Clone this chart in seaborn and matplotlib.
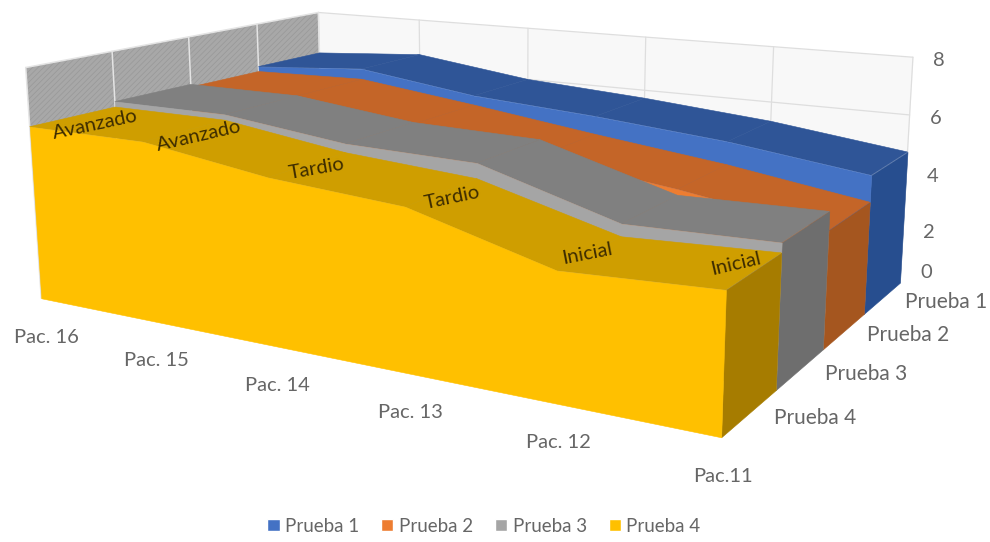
import matplotlib
matplotlib.use('Agg')
import matplotlib.pyplot as plt
from matplotlib.patches import Patch
from mpl_toolkits.mplot3d import proj3d
from mpl_toolkits.mplot3d.art3d import Poly3DCollection
import seaborn as sns

# Resultados por paciente, de Pac. 16 (fondo izquierda) a Pac.11 (frente derecha)
pacientes = ['Pac. 16', 'Pac. 15', 'Pac. 14', 'Pac. 13', 'Pac. 12', 'Pac.11']
prueba_1 = [6.3, 6.6, 6.0, 5.7, 5.3, 4.7]
prueba_2 = [6.1, 6.2, 5.65, 5.05, 4.5, 3.8]
prueba_3 = [6.2, 6.2, 5.7, 5.6, 4.3, 4.4]
prueba_4 = [6.0, 6.0, 5.4, 5.1, 3.9, 4.1]
estadios = ['Avanzado', 'Avanzado', 'Tardio', 'Tardio', 'Inicial', 'Inicial']
nombres = ['Prueba 1', 'Prueba 2', 'Prueba 3', 'Prueba 4']
eje_z = [0, 2, 4, 6, 8]

# Color de cada cara de las series: frontal, superior y lateral
frontal = ['#4472C4', '#ED7D31', '#A5A5A5', '#FFC000']
superior = ['#2F5597', '#C46528', '#808080', '#CF9E00']
lateral = ['#274E8F', '#A5561F', '#6E6E6E', '#A67C00']

W, H = 990, 542
sns.set_theme(style='white')
plt.rcParams['font.family'] = ['Lato', 'DejaVu Sans']
plt.rcParams['hatch.linewidth'] = 0.5
TEXTO = '#666666'

fig = plt.figure(figsize=(W / 100, H / 100), dpi=100)
ax = fig.add_subplot(projection='3d', computed_zorder=False)
n = len(pacientes)
m = len(nombres)
xs = list(range(n))
ax.set_xlim(0, n - 1)
ax.set_ylim(0, m)
ax.set_zlim(0, 8)
ax.set_xticks([])
ax.set_yticks([])
ax.set_zticks([])
ax.set_proj_type('persp', focal_length=1)
ax.view_init(13.083, -59.329, 0.236)
ax.set_box_aspect((1, 0.66, 0.321), zoom=2.928)
ax.set_axis_off()

# Escala y origen en pixeles de la proyeccion, llevados a la caja de los ejes
escala, ox, oy = 1620.9, 475.5, 178.2
(x0, y0), (x1, y1) = ax.transLimits.inverted().transform([(0, 0), (1, 1)])
lado = escala * (x1 - x0)
ax.set_position([(ox + escala * x0) / W, (H - oy + escala * y0) / H, lado / W, lado / H])
matriz = ax.get_proj()


def cara(verts, color, orden, **kw):
    kw.setdefault('edgecolor', color)
    kw.setdefault('linewidths', 0.4)
    ax.add_collection3d(Poly3DCollection(verts, facecolor=color, zorder=orden,
                                         clip_on=False, **kw))


def linea(x, y, z, color, lw):
    ax.plot(x, y, z, color=color, lw=lw, zorder=2, clip_on=False)


def rotulo(x, y, z, texto, color=TEXTO, size=14.5, giro=0):
    # Texto plano anclado a un punto del espacio de los ejes
    px, py, _ = proj3d.proj_transform(x, y, z, matriz)
    ax.text2D(px, py, texto, transform=ax.transData, rotation=giro, rotation_mode='anchor',
              ha='center', va='center', fontsize=size, color=color, zorder=40)


# Paredes y cuadricula
xf, yf = n - 1, m
cara([[(0, yf, 0), (xf, yf, 0), (xf, yf, 8), (0, yf, 8)]], '#F8F8F8', 1, linewidths=0)
cara([[(0, 0, 0), (0, yf, 0), (0, yf, 8), (0, 0, 8)]], '#A8A8A8', 1,
     hatch='//////', edgecolor='#989898', linewidths=0)
for x in xs:
    linea([x, x], [yf, yf], [0, 8], '#DEDEDE', 0.9)
for z in eje_z:
    linea([0, xf], [yf, yf], [z, z], '#DEDEDE', 0.9)
for y in range(m + 1):
    linea([0, 0], [y, y], [0, 8], '#E4E4E4', 1.1)
linea([0, 0], [0, yf], [8, 8], '#E4E4E4', 1.1)

# Series de atras hacia delante
series = [prueba_1, prueba_2, prueba_3, prueba_4]
for k, valores in enumerate(series):
    yb = m - k
    ya = yb - 1
    orden = 10 + 3 * k
    cinta = [[(xs[i], ya, valores[i]), (xs[i + 1], ya, valores[i + 1]),
              (xs[i + 1], yb, valores[i + 1]), (xs[i], yb, valores[i])]
             for i in range(n - 1)]
    cara(cinta, superior[k], orden)
    cara([[(xf, ya, 0), (xf, yb, 0), (xf, yb, valores[-1]), (xf, ya, valores[-1])]],
         lateral[k], orden + 1)
    perfil = [(x, ya, v) for x, v in zip(xs, valores)]
    cara([[(0, ya, 0)] + perfil + [(xf, ya, 0)]], frontal[k], orden + 2)

# Etiquetas de estadio sobre la cara superior de la Prueba 4
ajuste_x = [0.2, 0.12, 0.07, 0.07, -0.02, -0.11]
ajuste_z = [-0.2, -0.12, -0.08, -0.12, -0.03, 0.1]
giros = [12, 13, 10, 12, 11, 13]
for x, v, t, dx, dz, g in zip(xs, prueba_4, estadios, ajuste_x, ajuste_z, giros):
    rotulo(x + dx, 0.5, v + dz, t, color='#3D2C00', giro=g)

# Rotulos de los tres ejes
for x, t in zip(xs, pacientes):
    rotulo(x + 0.02, 0, -1.4 + 0.06 * x, t)
for t, y, dx in zip(nombres, [3.5, 2.5, 1.5, 0.5], [0.43, 0.41, 0.40, 0.375]):
    rotulo(xf + dx, y, 0.2, t, size=15)
for z in eje_z:
    rotulo(xf + 0.18, yf, (z if z else 0.55) - 0.05, str(z))

manijas = [Patch(facecolor=c, label=t) for c, t in zip(frontal, nombres)]
fig.legend(handles=manijas, loc='center', bbox_to_anchor=(484 / W, 1 - 526 / H), ncol=4,
           frameon=False, fontsize=13.5, labelcolor=TEXTO, handlelength=0.65, handleheight=0.65,
           handletextpad=0.3, columnspacing=1.16)

fig.savefig('out.png', dpi=100)
